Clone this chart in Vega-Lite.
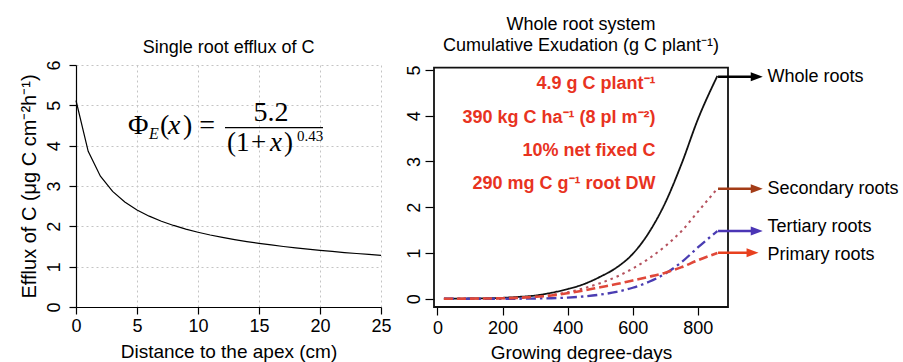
{
  "$schema": "https://vega.github.io/schema/vega-lite/v6.json",
  "background": "white",
  "padding": {"left": 19, "top": 15, "right": 0, "bottom": 0},
  "bounds": "flush",
  "spacing": 53,
  "config": {
    "view": {"stroke": null},
    "font": "Liberation Sans",
    "axis": {"labelColor": "black", "tickColor": "black", "domainColor": "black", "titleColor": "black", "labelFont": "Liberation Sans", "titleFont": "Liberation Sans", "labelFontSize": 18, "titleFontSize": 19, "titleFontWeight": "normal", "domainWidth": 1.2, "tickWidth": 1.2},
    "title": {"font": "Liberation Sans", "fontSize": 18, "fontWeight": "normal", "color": "black"}
  },
  "hconcat": [
    {
      "width": 305,
      "height": 242,
      "title": {"text": "Single root efflux of C", "offset": 3, "anchor": "middle"},
      "encoding": {
        "x": {"field": "x", "type": "quantitative", "scale": {"domain": [0, 25], "nice": false, "zero": false},
          "axis": {"values": [0, 5, 10, 15, 20, 25], "grid": true, "gridDash": [2, 3], "gridColor": "#c4c4c4", "tickSize": 7, "labelPadding": 3, "labelFlush": false, "title": "Distance to the apex (cm)", "titlePadding": 7}},
        "y": {"field": "y", "type": "quantitative", "scale": {"domain": [0, 6], "nice": false, "zero": false},
          "axis": {"values": [0, 1, 2, 3, 4, 5, 6], "grid": true, "gridDash": [2, 3], "gridColor": "#c4c4c4", "tickSize": 7, "labelAngle": 270, "labelAlign": "center", "labelBaseline": "bottom", "labelPadding": 6, "labelFlush": false, "title": "Efflux of C (μg C cm⁻²h⁻¹)", "titleFontSize": 20, "titlePadding": 6}}
      },
      "layer": [
        {
          "data": {"values": [
            {"x": 0, "y": 5.12}, {"x": 1, "y": 3.86}, {"x": 2, "y": 3.242}, {"x": 3, "y": 2.865}, {"x": 4, "y": 2.603},
            {"x": 5, "y": 2.407}, {"x": 6, "y": 2.252}, {"x": 7, "y": 2.127}, {"x": 8, "y": 2.022}, {"x": 9, "y": 1.932},
            {"x": 10, "y": 1.854}, {"x": 11, "y": 1.786}, {"x": 12, "y": 1.726}, {"x": 13, "y": 1.672}, {"x": 14, "y": 1.623},
            {"x": 15, "y": 1.578}, {"x": 16, "y": 1.538}, {"x": 17, "y": 1.5}, {"x": 18, "y": 1.466}, {"x": 19, "y": 1.434},
            {"x": 20, "y": 1.404}, {"x": 21, "y": 1.377}, {"x": 22, "y": 1.35}, {"x": 23, "y": 1.326}, {"x": 24, "y": 1.303},
            {"x": 25, "y": 1.281}
          ]},
          "mark": {"type": "line", "color": "black", "strokeWidth": 1.2}
        },
        {
          "data": {"values": [
            {"x": 4.262, "y": 4.488, "t": "Φ"}, {"x": 6.885, "y": 4.488, "t": "("}, {"x": 8.77, "y": 4.488, "t": ") ="},
            {"x": 14.549, "y": 4.817, "t": "5.2"}
          ]},
          "mark": {"type": "text", "font": "Liberation Serif", "fontSize": 28, "align": "left", "baseline": "middle", "color": "black"},
          "encoding": {"text": {"field": "t"}}
        },
        {
          "data": {"values": [
            {"x": 12.377, "y": 4.073, "t": "(1"}, {"x": 14.344, "y": 4.073, "t": "+"}, {"x": 17.049, "y": 4.073, "t": ")"}
          ]},
          "mark": {"type": "text", "font": "Liberation Serif", "fontSize": 27, "align": "left", "baseline": "middle", "color": "black"},
          "encoding": {"text": {"field": "t"}}
        },
        {
          "data": {"values": [{"x": 7.541, "y": 4.488, "t": "x"}]},
          "mark": {"type": "text", "font": "Liberation Serif", "fontSize": 28, "fontStyle": "italic", "align": "left", "baseline": "middle", "color": "black"},
          "encoding": {"text": {"field": "t"}}
        },
        {
          "data": {"values": [{"x": 15.902, "y": 4.073, "t": "x"}]},
          "mark": {"type": "text", "font": "Liberation Serif", "fontSize": 27, "fontStyle": "italic", "align": "left", "baseline": "middle", "color": "black"},
          "encoding": {"text": {"field": "t"}}
        },
        {
          "data": {"values": [{"x": 5.984, "y": 4.289, "t": "E"}]},
          "mark": {"type": "text", "font": "Liberation Serif", "fontSize": 16, "fontStyle": "italic", "align": "left", "baseline": "middle", "color": "black"},
          "encoding": {"text": {"field": "t"}}
        },
        {
          "data": {"values": [{"x": 18.115, "y": 4.24, "t": "0.43"}]},
          "mark": {"type": "text", "font": "Liberation Serif", "fontSize": 15, "align": "left", "baseline": "middle", "color": "black"},
          "encoding": {"text": {"field": "t"}}
        },
        {
          "data": {"values": [{"x": 12.213, "x2": 20.246, "y": 4.445}]},
          "mark": {"type": "rule", "color": "black", "strokeWidth": 1.2},
          "encoding": {"x2": {"field": "x2"}}
        }
      ]
    },
    {
      "width": 294,
      "height": 242,
      "title": {"text": ["Whole root system", "Cumulative Exudation (g C plant⁻¹)"], "offset": 10, "lineHeight": 21, "anchor": "middle"},
      "encoding": {
        "x": {"field": "g", "type": "quantitative", "scale": {"domain": [-10.5, 892.6], "nice": false, "zero": false},
          "axis": {"values": [0, 200, 400, 600, 800], "domain": false, "grid": false, "tickSize": 8, "labelPadding": 4, "labelFlush": false, "title": "Growing degree-days", "titlePadding": 6}},
        "y": {"field": "v", "type": "quantitative", "scale": {"domain": [-0.181, 5.109], "nice": false, "zero": false},
          "axis": {"values": [0, 1, 2, 3, 4, 5], "domain": false, "grid": false, "tickSize": 9, "labelAngle": 270, "labelAlign": "center", "labelBaseline": "bottom", "labelPadding": 2, "labelFlush": false, "title": null}}
      },
      "resolve": {"scale": {"color": "independent"}},
      "layer": [
        {
          "data": {"values": [{"g": -10.5, "g2": 892.6, "v": -0.181, "v2": 5.05}]},
          "mark": {"type": "rect", "fillOpacity": 0, "stroke": "#111111", "strokeWidth": 1.8},
          "encoding": {"x2": {"field": "g2"}, "y2": {"field": "v2"}}
        },
        {
          "data": {"values": [
            {"g": 20, "v": 0, "s": "Whole roots"}, {"g": 100, "v": 0.005, "s": "Whole roots"}, {"g": 150, "v": 0.01, "s": "Whole roots"},
            {"g": 200, "v": 0.02, "s": "Whole roots"}, {"g": 250, "v": 0.04, "s": "Whole roots"}, {"g": 300, "v": 0.07, "s": "Whole roots"},
            {"g": 350, "v": 0.13, "s": "Whole roots"}, {"g": 400, "v": 0.21, "s": "Whole roots"}, {"g": 450, "v": 0.32, "s": "Whole roots"},
            {"g": 500, "v": 0.48, "s": "Whole roots"}, {"g": 550, "v": 0.68, "s": "Whole roots"}, {"g": 600, "v": 0.98, "s": "Whole roots"},
            {"g": 650, "v": 1.45, "s": "Whole roots"}, {"g": 700, "v": 2.1, "s": "Whole roots"}, {"g": 750, "v": 2.95, "s": "Whole roots"},
            {"g": 800, "v": 3.92, "s": "Whole roots"}, {"g": 860, "v": 4.87, "s": "Whole roots"},
            {"g": 20, "v": 0, "s": "Secondary roots"}, {"g": 100, "v": 0, "s": "Secondary roots"}, {"g": 150, "v": 0.005, "s": "Secondary roots"},
            {"g": 200, "v": 0.01, "s": "Secondary roots"}, {"g": 250, "v": 0.02, "s": "Secondary roots"}, {"g": 300, "v": 0.04, "s": "Secondary roots"},
            {"g": 350, "v": 0.08, "s": "Secondary roots"}, {"g": 400, "v": 0.14, "s": "Secondary roots"}, {"g": 450, "v": 0.23, "s": "Secondary roots"},
            {"g": 500, "v": 0.34, "s": "Secondary roots"}, {"g": 550, "v": 0.48, "s": "Secondary roots"}, {"g": 600, "v": 0.66, "s": "Secondary roots"},
            {"g": 650, "v": 0.88, "s": "Secondary roots"}, {"g": 700, "v": 1.15, "s": "Secondary roots"}, {"g": 750, "v": 1.48, "s": "Secondary roots"},
            {"g": 800, "v": 1.9, "s": "Secondary roots"}, {"g": 860, "v": 2.41, "s": "Secondary roots"},
            {"g": 20, "v": 0, "s": "Tertiary roots"}, {"g": 150, "v": 0, "s": "Tertiary roots"}, {"g": 250, "v": 0, "s": "Tertiary roots"},
            {"g": 300, "v": 0.005, "s": "Tertiary roots"}, {"g": 350, "v": 0.01, "s": "Tertiary roots"}, {"g": 400, "v": 0.025, "s": "Tertiary roots"},
            {"g": 450, "v": 0.05, "s": "Tertiary roots"}, {"g": 500, "v": 0.09, "s": "Tertiary roots"}, {"g": 550, "v": 0.15, "s": "Tertiary roots"},
            {"g": 600, "v": 0.24, "s": "Tertiary roots"}, {"g": 650, "v": 0.37, "s": "Tertiary roots"}, {"g": 700, "v": 0.55, "s": "Tertiary roots"},
            {"g": 750, "v": 0.8, "s": "Tertiary roots"}, {"g": 800, "v": 1.12, "s": "Tertiary roots"}, {"g": 860, "v": 1.48, "s": "Tertiary roots"},
            {"g": 20, "v": 0, "s": "Primary roots"}, {"g": 150, "v": 0.005, "s": "Primary roots"}, {"g": 200, "v": 0.01, "s": "Primary roots"},
            {"g": 250, "v": 0.02, "s": "Primary roots"}, {"g": 300, "v": 0.04, "s": "Primary roots"}, {"g": 350, "v": 0.07, "s": "Primary roots"},
            {"g": 400, "v": 0.12, "s": "Primary roots"}, {"g": 450, "v": 0.18, "s": "Primary roots"}, {"g": 500, "v": 0.25, "s": "Primary roots"},
            {"g": 550, "v": 0.32, "s": "Primary roots"}, {"g": 600, "v": 0.4, "s": "Primary roots"}, {"g": 650, "v": 0.48, "s": "Primary roots"},
            {"g": 700, "v": 0.57, "s": "Primary roots"}, {"g": 750, "v": 0.69, "s": "Primary roots"}, {"g": 800, "v": 0.84, "s": "Primary roots"},
            {"g": 860, "v": 1.0, "s": "Primary roots"}
          ]},
          "mark": {"type": "line", "interpolate": "monotone"},
          "encoding": {
            "color": {"field": "s", "type": "nominal", "scale": {"domain": ["Whole roots", "Secondary roots", "Tertiary roots", "Primary roots"], "range": ["#111111", "#b5525e", "#4a3db2", "#e0483a"]}, "legend": null},
            "strokeDash": {"field": "s", "type": "nominal", "scale": {"domain": ["Whole roots", "Secondary roots", "Tertiary roots", "Primary roots"], "range": [[1, 0], [2.5, 4], [10, 4, 2.5, 4], [9, 4]]}, "legend": null},
            "strokeWidth": {"field": "s", "type": "nominal", "scale": {"domain": ["Whole roots", "Secondary roots", "Tertiary roots", "Primary roots"], "range": [1.8, 2.6, 2.2, 2.2]}, "legend": null}
          }
        },
        {
          "data": {"values": [
            {"g": 862, "g2": 975, "v": 4.85, "a": "Whole roots"}, {"g": 862, "g2": 975, "v": 2.405, "a": "Secondary roots"},
            {"g": 862, "g2": 975, "v": 1.48, "a": "Tertiary roots"}, {"g": 862, "g2": 962, "v": 1.006, "a": "Primary roots"}
          ]},
          "mark": {"type": "rule", "strokeWidth": 2.5},
          "encoding": {
            "x2": {"field": "g2"},
            "color": {"field": "a", "type": "nominal", "scale": {"domain": ["Whole roots", "Secondary roots", "Tertiary roots", "Primary roots"], "range": ["#000000", "#a33c17", "#4b35b5", "#e8401e"]}, "legend": null}
          }
        },
        {
          "data": {"values": [
            {"g": 981, "v": 4.85, "a": "Whole roots"}, {"g": 981, "v": 2.405, "a": "Secondary roots"},
            {"g": 981, "v": 1.48, "a": "Tertiary roots"}, {"g": 968, "v": 1.006, "a": "Primary roots"}
          ]},
          "mark": {"type": "point", "shape": "M-1,-0.75L1,0L-1,0.75Z", "filled": true, "size": 144, "opacity": 1, "strokeWidth": 0},
          "encoding": {
            "color": {"field": "a", "type": "nominal", "scale": {"domain": ["Whole roots", "Secondary roots", "Tertiary roots", "Primary roots"], "range": ["#000000", "#a33c17", "#4b35b5", "#e8401e"]}, "legend": null}
          }
        },
        {
          "data": {"values": [
            {"g": 1014, "v": 4.847, "t": "Whole roots"}, {"g": 1014, "v": 2.4, "t": "Secondary roots"},
            {"g": 1014, "v": 1.57, "t": "Tertiary roots"}, {"g": 1014, "v": 0.955, "t": "Primary roots"}
          ]},
          "mark": {"type": "text", "align": "left", "baseline": "middle", "fontSize": 18, "font": "Liberation Sans", "color": "black"},
          "encoding": {"text": {"field": "t"}}
        },
        {
          "data": {"values": [
            {"g": 670, "v": 4.69, "t": "4.9 g C plant⁻¹"}, {"g": 670, "v": 3.96, "t": "390 kg C ha⁻¹ (8 pl m⁻²)"},
            {"g": 670, "v": 3.23, "t": "10% net fixed C"}, {"g": 670, "v": 2.51, "t": "290 mg C g⁻¹ root DW"}
          ]},
          "mark": {"type": "text", "align": "right", "baseline": "middle", "fontSize": 18, "fontWeight": "bold", "font": "Liberation Sans", "color": "#e8331f"},
          "encoding": {"text": {"field": "t"}}
        }
      ]
    }
  ]
}
